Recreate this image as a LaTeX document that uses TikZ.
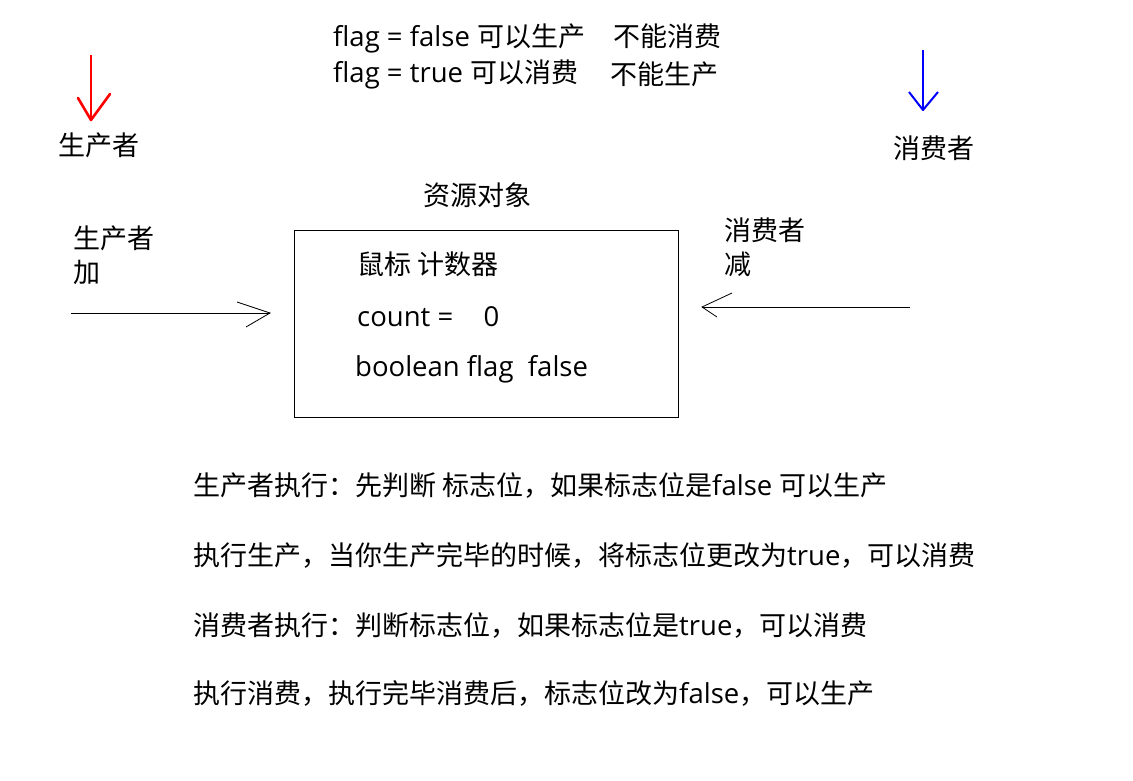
\documentclass[tikz,border=0pt]{standalone}
\usepackage{fontspec}
\setmainfont{Noto Sans CJK SC}
\newfontfamily\latf{Open Sans}
\newcommand{\lt}[1]{{\latf\fontsize{27.5}{30}\selectfont #1}}
\begin{document}
\begin{tikzpicture}[x=1pt,y=-1pt,
  txt/.style={anchor=base west,inner sep=0pt,font=\fontsize{27}{30}\selectfont},
  ctxt/.style={anchor=base,inner sep=0pt,font=\fontsize{27}{30}\selectfont},
  thin line/.style={draw=black,line width=1pt},
]
\useasboundingbox[fill=white] (0,0) rectangle (1133,781);
% top legend
\node[txt] (l1) at (333,47) {\lt{flag = false }可以生产};
\node[txt] (l1b) at (613,47) {不能消费};
\node[txt] (l2) at (333,83) {\lt{flag = true }可以消费};
\node[txt] (l2b) at (610,85) {不能生产};
% producer / consumer labels
\node[txt] (prod) at (58,156) {生产者};
\node[txt] (cons) at (893,159) {消费者};
\coordinate (ra) at (91,55);
\coordinate (rb) at (91,120);
\draw[red,line width=2.6pt] (ra) -- (rb);
\draw[red,line width=2.6pt,line join=round,line cap=round] (78,98) -- (rb) -- (110,94);
\coordinate (ba) at (923,50);
\coordinate (bb) at (923,110);
\draw[blue,line width=2pt] (ba) -- (bb);
\draw[blue,line width=2pt,line join=round] (909,92) -- (bb) -- (938,92);
% resource object
\node[ctxt] (title) at (477,205) {资源对象};
\node[draw,line width=1pt,minimum width=384pt,minimum height=187pt,inner sep=0pt,anchor=north west] (box) at (294,230) {};
\node[txt] (f1) at (357,274) {鼠标 计数器};
\node[txt] (f2) at (357,326) {\lt{count =\ \ \ \hspace{9pt}0}};
\node[txt] (f3) at (355,376) {\lt{boolean flag\ \ false}};
% side labels
\node[txt] (pl1) at (73,248) {生产者};
\node[txt] (pl2) at (73,282) {加};
\node[txt] (cl1) at (724,240) {消费者};
\node[txt] (cl2) at (724,274) {减};
% side arrows
\coordinate (pa) at (71,313);
\coordinate (pb) at (270,313);
\draw[thin line] (pa) -- (pb);
\draw[line width=0.8pt] (237,302) -- (pb) -- (246,327);
\coordinate (ca) at (910,307);
\coordinate (cb) at (702,307);
\draw[thin line] (ca) -- (cb);
\draw[line width=0.8pt] (732,293) -- (cb) -- (717,317);
% bottom description
\node[txt] (d1) at (193,495) {生产者执行：先判断 标志位，如果标志位是\lt{false }可以生产};
\node[txt] (d2) at (193,565) {执行生产，当你生产完毕的时候，将标志位更改为\lt{true}，可以消费};
\node[txt] (d3) at (193,635) {消费者执行：判断标志位，如果标志位是\lt{true}，可以消费};
\node[txt] (d4) at (193,703) {执行消费，执行完毕消费后，标志位改为\lt{false}，可以生产};
\end{tikzpicture}
\end{document}
